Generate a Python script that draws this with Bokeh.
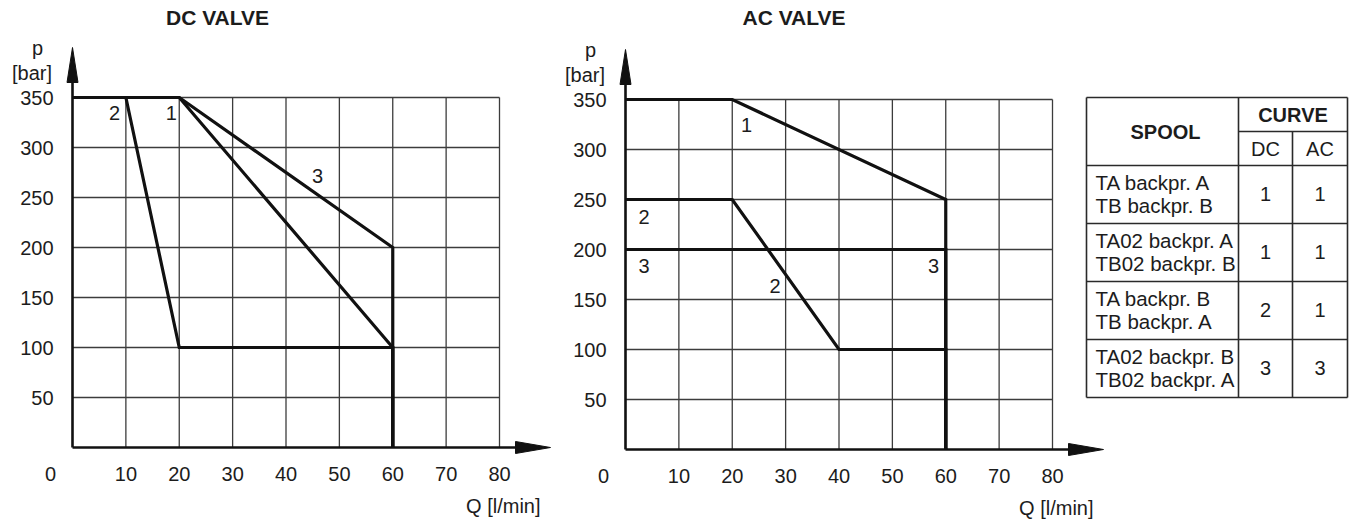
from bokeh.plotting import figure
from bokeh.models import Range1d
from bokeh.core.properties import value
from bokeh.embed import file_html
from bokeh.resources import INLINE

# ---------------- data ----------------
Q_TICKS = [10, 20, 30, 40, 50, 60, 70, 80]
Q_TICK_LABELS = ["10", "20", "30", "40", "50", "60", "70", "80"]
P_TICKS = [50, 100, 150, 200, 250, 300, 350]
P_TICK_LABELS = ["50", "100", "150", "200", "250", "300", "350"]
ORIGIN_LABEL = "0"
Q_AXIS_LABEL = "Q [l/min]"
P_AXIS_LABEL = ["p", "[bar]"]

DC_TITLE = "DC VALVE"
DC_CURVE1_Q = [0, 20, 60, 60]
DC_CURVE1_P = [350, 350, 100, 0]
DC_CURVE2_Q = [0, 10, 20, 60, 60]
DC_CURVE2_P = [350, 350, 100, 100, 0]
DC_CURVE3_Q = [0, 20, 60, 60]
DC_CURVE3_P = [350, 350, 200, 0]
DC_LABEL_TEXT = ["2", "1", "3"]
DC_LABEL_Q = [7.9, 18.5, 45.9]
DC_LABEL_P = [335, 335, 272]

AC_TITLE = "AC VALVE"
AC_CURVE1_Q = [0, 20, 60, 60]
AC_CURVE1_P = [350, 350, 250, 0]
AC_CURVE2_Q = [0, 20, 40, 60, 60]
AC_CURVE2_P = [250, 250, 100, 100, 0]
AC_CURVE3_Q = [0, 60, 60]
AC_CURVE3_P = [200, 200, 0]
AC_LABEL_TEXT = ["1", "2", "2", "3", "3"]
AC_LABEL_Q = [22.7, 3.5, 28.0, 3.5, 57.7]
AC_LABEL_P = [325, 233, 164, 184, 184]

TABLE_SPOOL = "SPOOL"
TABLE_CURVE = "CURVE"
TABLE_SUB = ["DC", "AC"]
SPOOL_LINE1 = ["TA backpr. A", "TA02 backpr. A", "TA backpr. B", "TA02 backpr. B"]
SPOOL_LINE2 = ["TB backpr. B", "TB02 backpr. B", "TB backpr. A", "TB02 backpr. A"]
CURVE_DC = ["1", "1", "2", "3"]
CURVE_AC = ["1", "1", "1", "3"]

# ---------------- layout (reference pixels) ----------------
FIG_W, FIG_H = 1349, 520
REF_X0, REF_Y0 = 0, 0           # reference pixel at figure's top-left corner
SX, SY = 427 / 80.0, 1.0        # px per unit
DC_ORIGIN = (72, 447)
AC_ORIGIN = (625, 449)
DC_TITLE_OFF = (145, 430)       # px right / up from origin
AC_TITLE_OFF = (168.5, 432)

FONT = value("Liberation Sans")
FS = "20px"
TXT = "#1c1c1c"
GRID_COLOR = "#3c3c3c"
INK = "#111111"


def rng(origin):
    ox, oy = origin
    xr = Range1d((REF_X0 - ox) / SX, (REF_X0 + FIG_W - ox) / SX)
    yr = Range1d((oy - (REF_Y0 + FIG_H)) / SY, (oy - REF_Y0) / SY)
    return xr, yr


dc_x, dc_y = rng(DC_ORIGIN)
ac_x, ac_y = rng(AC_ORIGIN)

p = figure(width=FIG_W, height=FIG_H, x_range=dc_x, y_range=dc_y,
           x_axis_type=None, y_axis_type=None, toolbar_location=None,
           output_backend="svg", min_border=0, title=None)
p.outline_line_color = None
p.background_fill_color = "white"
p.border_fill_color = "white"
p.extra_x_ranges = {"ac": ac_x, "tb": Range1d(REF_X0, REF_X0 + FIG_W)}
p.extra_y_ranges = {"ac": ac_y, "tb": Range1d(REF_Y0 + FIG_H, REF_Y0)}


def draw_chart(rn, curves, lab_text, lab_q, lab_p, title, title_off):
    kw = {} if rn is None else dict(x_range_name=rn, y_range_name=rn)
    qmax, pmax = max(Q_TICKS), max(P_TICKS)
    # grid
    p.segment(x0=Q_TICKS, y0=[0] * len(Q_TICKS), x1=Q_TICKS, y1=[pmax] * len(Q_TICKS),
              line_color=GRID_COLOR, line_width=1.3, **kw)
    p.segment(x0=[0] * len(P_TICKS), y0=P_TICKS, x1=[qmax] * len(P_TICKS), y1=P_TICKS,
              line_color=GRID_COLOR, line_width=1.3, **kw)
    # axes with arrows
    over_q, over_p = 51 / SX, 50 / SY
    head_q, head_p = 35 / SX, 35 / SY
    half_q, half_p = 5.5 / SX, 6 / SY
    tip_q, tip_p = qmax + over_q, pmax + over_p
    p.line([0, tip_q - head_q], [0, 0], line_color=INK, line_width=2.6, **kw)
    p.line([0, 0], [0, tip_p - head_p], line_color=INK, line_width=2.6, **kw)
    p.patches(xs=[[tip_q, tip_q - head_q, tip_q - head_q], [0, -half_q, half_q]],
              ys=[[0, half_p, -half_p], [tip_p, tip_p - head_p, tip_p - head_p]],
              fill_color=INK, line_color=INK, line_width=1, **kw)
    # curves
    for cq, cp in curves:
        p.line(cq, cp, line_color=INK, line_width=3.2, line_join="miter", **kw)
    # curve labels
    p.text(x=lab_q, y=lab_p, text=lab_text, text_font=FONT, text_font_size=FS,
           text_color=TXT, text_align="center", text_baseline="middle", **kw)
    # tick labels
    p.text(x=Q_TICKS, y=[-26 / SY] * len(Q_TICKS), text=Q_TICK_LABELS, text_font=FONT,
           text_font_size=FS, text_color=TXT, text_align="center",
           text_baseline="middle", **kw)
    p.text(x=[-22 / SX], y=[-26 / SY], text=[ORIGIN_LABEL], text_font=FONT,
           text_font_size=FS, text_color=TXT, text_align="center",
           text_baseline="middle", **kw)
    p.text(x=[-19 / SX] * len(P_TICKS), y=P_TICKS, text=P_TICK_LABELS, text_font=FONT,
           text_font_size=FS, text_color=TXT, text_align="right",
           text_baseline="middle", **kw)
    # axis titles
    p.text(x=[tip_q - 10 / SX], y=[-58 / SY], text=[Q_AXIS_LABEL], text_font=FONT,
           text_font_size=FS, text_color=TXT, text_align="right",
           text_baseline="middle", **kw)
    p.text(x=[-35 / SX, -40.5 / SX], y=[400 / SY, 375 / SY], text=P_AXIS_LABEL,
           text_font=FONT, text_font_size=FS, text_color=TXT, text_align="center",
           text_baseline="alphabetic", **kw)
    # chart title
    p.text(x=[title_off[0] / SX], y=[title_off[1] / SY], text=[title], text_font=FONT,
           text_font_size="21px", text_font_style="bold", text_color=TXT,
           text_align="center", text_baseline="middle", **kw)


draw_chart(None, [(DC_CURVE1_Q, DC_CURVE1_P), (DC_CURVE2_Q, DC_CURVE2_P),
                  (DC_CURVE3_Q, DC_CURVE3_P)],
           DC_LABEL_TEXT, DC_LABEL_Q, DC_LABEL_P, DC_TITLE, DC_TITLE_OFF)
draw_chart("ac", [(AC_CURVE1_Q, AC_CURVE1_P), (AC_CURVE2_Q, AC_CURVE2_P),
                  (AC_CURVE3_Q, AC_CURVE3_P)],
           AC_LABEL_TEXT, AC_LABEL_Q, AC_LABEL_P, AC_TITLE, AC_TITLE_OFF)

# ---------------- table (reference-pixel coordinates) ----------------
T_LEFT, T_TOP = 1086, 97
COL_W = [152, 54, 55]
HEAD_H = [34, 34]
ROW_H = 58
tkw = dict(x_range_name="tb", y_range_name="tb")

xs = [T_LEFT]
for w in COL_W:
    xs.append(xs[-1] + w)
ys_head = [T_TOP, T_TOP + HEAD_H[0], T_TOP + HEAD_H[0] + HEAD_H[1]]
ys_rows = [ys_head[2] + ROW_H * i for i in range(len(SPOOL_LINE1) + 1)]
t_bottom = ys_rows[-1]

hx0, hy0, hx1, hy1 = [], [], [], []
for y in [T_TOP, ys_head[2]] + ys_rows[1:]:
    hx0.append(xs[0]); hx1.append(xs[3]); hy0.append(y); hy1.append(y)
hx0.append(xs[1]); hx1.append(xs[3]); hy0.append(ys_head[1]); hy1.append(ys_head[1])
for x in [xs[0], xs[1], xs[3]]:
    hx0.append(x); hx1.append(x); hy0.append(T_TOP); hy1.append(t_bottom)
hx0.append(xs[2]); hx1.append(xs[2]); hy0.append(ys_head[1]); hy1.append(t_bottom)
p.segment(x0=hx0, y0=hy0, x1=hx1, y1=hy1, line_color="#2a2a2a", line_width=1.6, **tkw)

col_c = [(xs[i] + xs[i + 1]) / 2 for i in range(3)]
p.text(x=[col_c[0] + 3, (xs[1] + xs[3]) / 2], y=[(ys_head[0] + ys_head[2]) / 2,
                                                 (ys_head[0] + ys_head[1]) / 2],
       text=[TABLE_SPOOL, TABLE_CURVE], text_font=FONT, text_font_size="20px",
       text_font_style="bold", text_color=TXT, text_align="center",
       text_baseline="middle", **tkw)
p.text(x=col_c[1:], y=[(ys_head[1] + ys_head[2]) / 2] * 2, text=TABLE_SUB,
       text_font=FONT, text_font_size=FS, text_color=TXT, text_align="center",
       text_baseline="middle", **tkw)
row_c = [(ys_rows[i] + ys_rows[i + 1]) / 2 - 1 for i in range(len(SPOOL_LINE1))]
p.text(x=[T_LEFT + 9] * len(row_c), y=[c - 11.5 for c in row_c], text=SPOOL_LINE1,
       text_font=FONT, text_font_size="20.5px", text_color=TXT, text_align="left",
       text_baseline="middle", **tkw)
p.text(x=[T_LEFT + 9] * len(row_c), y=[c + 11.5 for c in row_c], text=SPOOL_LINE2,
       text_font=FONT, text_font_size="20.5px", text_color=TXT, text_align="left",
       text_baseline="middle", **tkw)
p.text(x=[col_c[1]] * len(row_c), y=row_c, text=CURVE_DC, text_font=FONT,
       text_font_size=FS, text_color=TXT, text_align="center",
       text_baseline="middle", **tkw)
p.text(x=[col_c[2]] * len(row_c), y=row_c, text=CURVE_AC, text_font=FONT,
       text_font_size=FS, text_color=TXT, text_align="center",
       text_baseline="middle", **tkw)

open("out.html", "w").write(file_html(p, INLINE))
